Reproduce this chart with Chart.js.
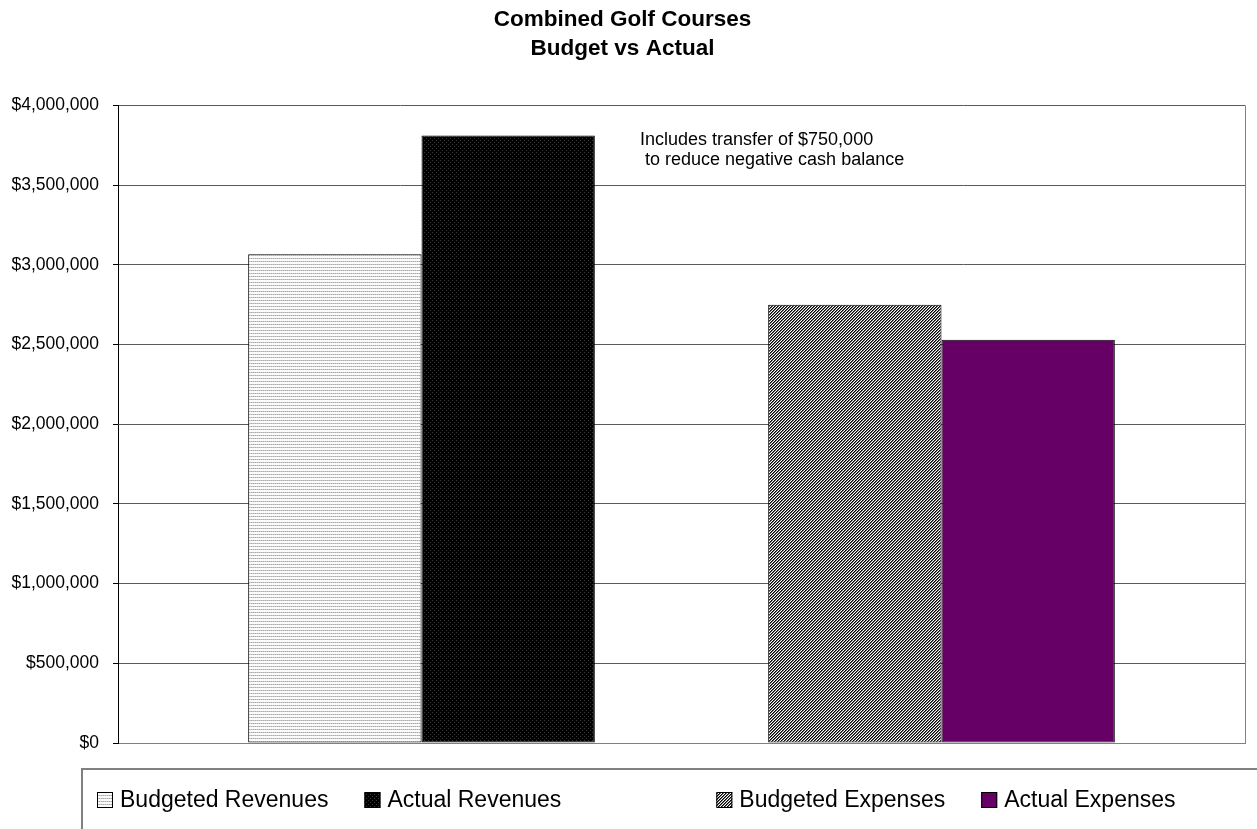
<!DOCTYPE html>
<html>
<head>
<meta charset="utf-8">
<script src="https://cdn.jsdelivr.net/npm/chart.js@4/dist/chart.umd.min.js"></script>
<style>
    html, body { margin: 0; padding: 0; background: #fff; }
    #wrap { width: 1257px; height: 829px; }
</style>
</head>
<body>
<div id="wrap"><canvas id="golf-chart" width="1257" height="829"></canvas></div>
<script>
const categories = [""];
const seriesNames = ["Budgeted Revenues", "Actual Revenues", "", "Budgeted Expenses", "Actual Expenses"];
const budgetedRevenues = [3067000];
const actualRevenues = [3812000];
const spacer = [null];
const budgetedExpenses = [2750000];
const actualExpenses = [2530000];
const yTickValues = [0, 500000, 1000000, 1500000, 2000000, 2500000, 3000000, 3500000, 4000000];
const titleLines = ["Combined Golf Courses", "Budget vs Actual"];
const noteLines = ["Includes transfer of $750,000", " to reduce negative cash balance"];

const canvas = document.getElementById("golf-chart");
const ctx = canvas.getContext("2d");
const FONT = "Arial, 'Liberation Sans', sans-serif";

// little pixel patterns, like the old Excel fills
const makePattern = (w, h, fn) => {
    const c = document.createElement("canvas");
    c.width = w;
    c.height = h;
    const g = c.getContext("2d");
    for (let y = 0; y < h; y++) {
        for (let x = 0; x < w; x++) {
            g.fillStyle = fn(x, y);
            g.fillRect(x, y, 1, 1);
        }
    }
    return ctx.createPattern(c, "repeat");
};

const lightHorizontal = makePattern(2, 3, (x, y) => y === 0 ? (x % 2 ? "#a8a8a8" : "#cccccc") : "#fbfbfb");
const darkDots = makePattern(4, 4, (x, y) => (x === 0 && y === 0) || (x === 2 && y === 2) ? "#3a3a3a" : "#000000");
const upDiagonal = makePattern(3, 3, (x, y) => ["#000000", "#6a6a6a", "#ffffff"][(x + y) % 3]);
const purple = "#660066";

const fills = [lightHorizontal, darkDots, "rgba(0,0,0,0)", upDiagonal, purple];
const seriesData = [budgetedRevenues, actualRevenues, spacer, budgetedExpenses, actualExpenses];

const money = v => "$" + Number(v).toLocaleString("en-US");

const frameLines = {
    id: "frameLines",
    beforeDatasetsDraw(chart) {
        const { ctx, chartArea } = chart;
        ctx.save();
        ctx.strokeStyle = "#808080";
        ctx.lineWidth = 1;
        ctx.beginPath();
        ctx.moveTo(Math.round(chartArea.right) + 0.5, chartArea.top);
        ctx.lineTo(Math.round(chartArea.right) + 0.5, chartArea.bottom);
        ctx.stroke();
        ctx.restore();
    }
};

const noteText = {
    id: "noteText",
    afterDraw(chart) {
        const { ctx } = chart;
        ctx.save();
        ctx.fillStyle = "#000";
        ctx.font = "18px " + FONT;
        ctx.textBaseline = "alphabetic";
        ctx.fillText(noteLines[0], 640, 145);
        ctx.fillText(noteLines[1], 640, 165);
        ctx.restore();
    }
};

const excelLegend = {
    id: "excelLegend",
    afterDraw(chart) {
        const { ctx } = chart;
        ctx.save();
        // legend frame
        ctx.strokeStyle = "#808080";
        ctx.lineWidth = 2;
        ctx.beginPath();
        ctx.moveTo(82, 829);
        ctx.lineTo(82, 769);
        ctx.lineTo(1257, 769);
        ctx.stroke();

        ctx.font = "23px " + FONT;
        ctx.textBaseline = "middle";
        let x = 97;
        const y = 800;
        chart.data.datasets.forEach(ds => {
            if (ds.label === "") {
                x += 119;
                return;
            }
            ctx.fillStyle = ds.backgroundColor;
            ctx.fillRect(x, y - 8, 16, 16);
            ctx.strokeStyle = "#000";
            ctx.lineWidth = 1;
            ctx.strokeRect(x + 0.5, y - 7.5, 15, 15);
            ctx.fillStyle = "#000";
            ctx.fillText(ds.label, x + 23, y + 1);
            x += 23 + ctx.measureText(ds.label).width + 36;
        });
        ctx.restore();
    }
};

const chart = new Chart(canvas, {
    type: "bar",
    data: {
        labels: categories,
        datasets: seriesNames.map((name, i) => ({
            label: name,
            data: seriesData[i],
            backgroundColor: fills[i],
            borderColor: "#000",
            borderWidth: 1,
            borderSkipped: false,
            barPercentage: 1,
            categoryPercentage: 0.769
        }))
    },
    options: {
        responsive: false,
        animation: false,
        layout: { padding: { left: 0, right: 12, top: 0, bottom: 78 } },
        plugins: {
            legend: { display: false },
            tooltip: { enabled: false },
            title: {
                display: true,
                text: titleLines,
                color: "#000",
                font: { family: FONT, size: 22.5, weight: "bold", lineHeight: 1.3 },
                padding: { top: 5, bottom: 42 }
            }
        },
        scales: {
            x: {
                grid: { display: false },
                ticks: { display: false },
                border: { color: "#808080", width: 1 }
            },
            y: {
                min: 0,
                max: 4000000,
                afterBuildTicks: scale => {
                    scale.ticks = yTickValues.map(v => ({ value: v }));
                },
                afterFit: scale => {
                    scale.width = 118;
                },
                ticks: {
                    color: "#000",
                    font: { family: FONT, size: 17.5 },
                    padding: 14,
                    callback: v => money(v)
                },
                grid: { color: "#5a5a5a", lineWidth: 1, tickLength: 5, tickColor: "#000" },
                border: { color: "#000", width: 1 }
            }
        }
    },
    plugins: [frameLines, noteText, excelLegend]
});
</script>
</body>
</html>
